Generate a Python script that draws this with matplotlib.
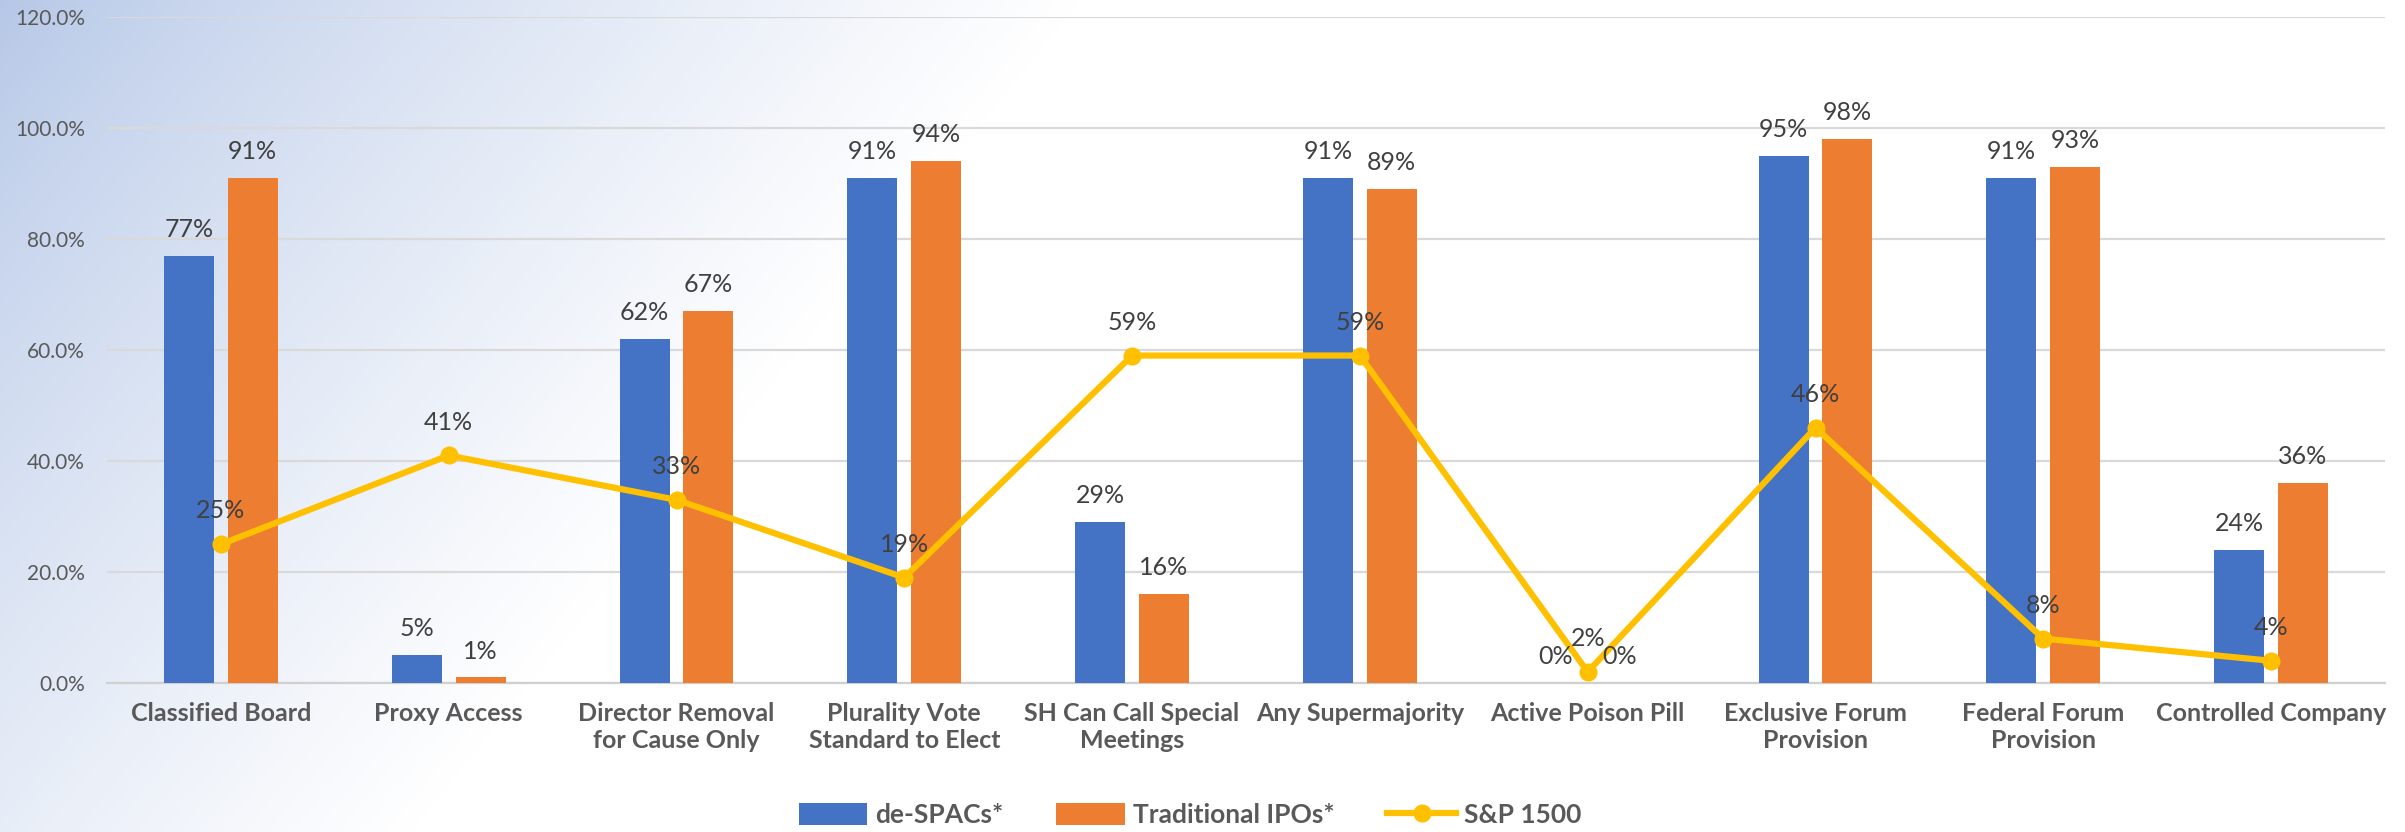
import numpy as np
import matplotlib
matplotlib.use("Agg")
import matplotlib.pyplot as plt
from matplotlib.ticker import FuncFormatter

plt.rcParams['font.family'] = ['Lato', 'DejaVu Sans']

categories = ["Classified Board", "Proxy Access", "Director Removal\nfor Cause Only",
              "Plurality Vote\nStandard to Elect", "SH Can Call Special\nMeetings",
              "Any Supermajority", "Active Poison Pill", "Exclusive Forum\nProvision",
              "Federal Forum\nProvision", "Controlled Company"]
despacs = [77, 5, 62, 91, 29, 91, 0, 95, 91, 24]
trad_ipos = [91, 1, 67, 94, 16, 89, 0, 98, 93, 36]
sp1500 = [25, 41, 33, 19, 59, 59, 2, 46, 8, 4]
yticks = [0, 20, 40, 60, 80, 100, 120]

blue = "#4472C4"
orange = "#ED7D31"
gold = "#FFC000"
label_col = "#404040"
tick_col = "#595959"

W, H = 2405, 832
fig = plt.figure(figsize=(W / 100, H / 100), dpi=100)

# diagonal blue-to-white wash behind everything
bg = fig.add_axes([0, 0, 1, 1], zorder=-10)
yy, xx = np.mgrid[0:H, 0:W]
t = np.clip((832 * xx + 670 * yy) / (832 * 1080.0), 0, 1)
t = t ** 0.8
c0 = np.array([181, 199, 231]) / 255.0
img = c0[None, None, :] * (1 - t[..., None]) + t[..., None] * 1.0
bg.imshow(img, aspect='auto', extent=[0, 1, 0, 1], origin='upper')
bg.axis('off')

ax = fig.add_axes([107 / W, 1 - 683 / H, (2385 - 107) / W, (683 - 17) / H])
ax.set_facecolor('none')

x = np.arange(len(categories))
w = 0.22
off = 0.14
b1 = ax.bar(x - off, despacs, w, color=blue, label="de-SPACs*", zorder=3)
b2 = ax.bar(x + off, trad_ipos, w, color=orange, label="Traditional IPOs*", zorder=3)
ln, = ax.plot(x, sp1500, color=gold, lw=4.5, marker='o', ms=12, label="S&P 1500", zorder=4)

for xs, vals in ((x - off, despacs), (x + off, trad_ipos)):
    for xi, v in zip(xs, vals):
        ax.annotate(f"{v}%", (xi, v), xytext=(0, 19), textcoords='offset points',
                    ha='center', va='center', fontsize=18, color=label_col, zorder=5)
for xi, v in zip(x, sp1500):
    ax.annotate(f"{v}%", (xi, v), xytext=(0, 24), textcoords='offset points',
                ha='center', va='center', fontsize=18, color=label_col, zorder=5)

ax.set_xlim(-0.5, len(categories) - 0.5)
ax.set_ylim(0, 120)
ax.set_yticks(yticks)
ax.yaxis.set_major_formatter(FuncFormatter(lambda v, p: f"{v:.1f}%"))
ax.set_xticks(x)
ax.set_xticklabels(categories, fontsize=18, fontweight='bold', color=tick_col, linespacing=1.2)
ax.tick_params(axis='y', length=0, pad=16, labelsize=15, labelcolor=tick_col)
ax.tick_params(axis='x', length=0, pad=14)
ax.yaxis.grid(True, color="#D9D9D9", lw=1.6, zorder=0)
for s in ('top', 'right', 'left'):
    ax.spines[s].set_visible(False)
ax.spines['bottom'].set_color("#D0D0D0")
ax.spines['bottom'].set_linewidth(1.6)

leg = fig.legend([b1, b2, ln], ["de-SPACs*", "Traditional IPOs*", "S&P 1500"],
                 loc='center', bbox_to_anchor=(1190 / W, 1 - 815 / H), ncol=3, frameon=False,
                 prop={'size': 19, 'weight': 'bold'}, handlelength=2.6, handleheight=0.9,
                 columnspacing=2.0, handletextpad=0.3)
for txt in leg.get_texts():
    txt.set_color(tick_col)

fig.savefig("out.png", dpi=100)
